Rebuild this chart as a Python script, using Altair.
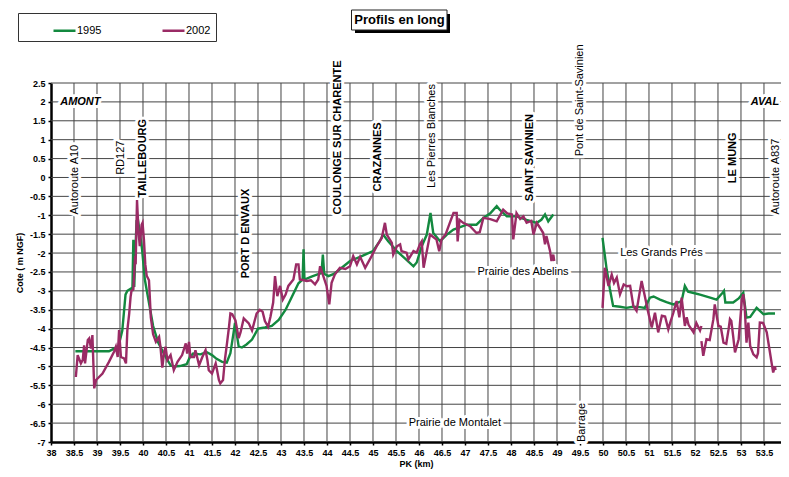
import altair as alt
import pandas as pd

# ---------------- data (PK km, cote m NGF) ----------------
g95_a_km = [38.53, 38.9, 39.26, 39.37, 39.47, 39.55, 39.62, 39.66, 39.75, 39.77, 39.79, 39.81, 39.83, 39.86,
            39.89, 39.93, 39.98, 40.04, 40.12, 40.22, 40.33, 40.45, 40.52, 40.6, 40.66, 40.8, 40.95, 41.02,
            41.09, 41.25, 41.38, 41.5, 41.6, 41.72, 41.82, 41.9, 41.97, 42.0, 42.08, 42.15, 42.25, 42.37,
            42.5, 42.65, 42.8, 42.95, 43.1, 43.24, 43.38, 43.47, 43.49, 43.51, 43.65, 43.78, 43.88, 43.91,
            43.94, 44.03, 44.15, 44.28, 44.5, 44.72, 45.0, 45.15, 45.22, 45.33, 45.52, 45.7, 45.88, 45.95,
            46.06, 46.17, 46.25, 46.31, 46.46, 46.6, 46.75, 47.04, 47.25, 47.4, 47.55, 47.69, 47.76, 47.91,
            48.12, 48.34, 48.56, 48.66, 48.74, 48.81, 48.92]
g95_a_z = [-4.6, -4.6, -4.6, -4.53, -4.45, -4.05, -3.1, -3.0, -2.93, -2.95, -1.65, -2.9, -2.1, -1.15,
           -1.12, -1.45, -1.9, -2.7, -3.25, -3.93, -4.37, -4.65, -4.81, -4.97, -5.0, -4.99, -4.94, -4.75,
           -4.66, -4.68, -4.62, -4.7, -4.8, -4.88, -4.9, -4.65, -4.1, -3.85, -4.47, -4.5, -4.42, -4.29,
           -4.0, -3.97, -3.93, -3.77, -3.5, -3.15, -2.8, -2.7, -1.9, -2.7, -2.63, -2.57, -2.53, -2.04,
           -2.55, -2.61, -2.55, -2.43, -2.21, -2.1, -1.95, -1.68, -1.51, -1.69, -1.95, -2.15, -2.35, -2.25,
           -1.82, -1.51, -0.94, -1.47, -1.69, -1.52, -1.38, -1.25, -1.25, -1.07, -0.95, -0.76, -0.86, -1.03,
           -1.03, -1.12, -1.2, -1.12, -0.98, -1.16, -0.98]

g95_b_km = [49.99, 50.08, 50.15, 50.22, 50.37, 50.51, 50.65, 50.8, 50.91, 51.02, 51.1, 51.24, 51.38, 51.53,
            51.71, 51.78, 51.85, 51.95, 52.11, 52.33, 52.47, 52.6, 52.63, 52.66, 52.83, 52.95, 53.05, 53.12,
            53.2, 53.34, 53.49, 53.6, 53.74]
g95_b_z = [-1.6, -2.43, -2.95, -3.4, -3.42, -3.45, -3.42, -3.43, -3.45, -3.18, -3.15, -3.23, -3.3, -3.36,
           -3.27, -2.87, -3.02, -3.05, -3.1, -3.18, -3.23, -3.05, -3.0, -3.31, -3.31, -3.2, -3.05, -3.71,
           -3.69, -3.45, -3.62, -3.6, -3.6]

p02_a_km = [38.54, 38.58, 38.65, 38.69, 38.72, 38.74, 38.8, 38.83, 38.87, 38.9, 38.94, 38.98, 39.12, 39.26,
            39.37, 39.41, 39.45, 39.48, 39.52, 39.59, 39.63, 39.66, 39.7, 39.73, 39.75, 39.79, 39.83, 39.84,
            39.87, 39.9, 39.93, 39.97, 39.99, 40.02, 40.05, 40.08, 40.13, 40.17, 40.22, 40.28, 40.35, 40.38,
            40.42, 40.46, 40.49, 40.53, 40.6, 40.67, 40.75, 40.85, 40.93, 40.96, 41.0, 41.03, 41.11, 41.14,
            41.22, 41.29, 41.36, 41.4, 41.43, 41.5, 41.58, 41.61, 41.65, 41.68, 41.74, 41.78, 41.83, 41.87,
            41.9, 41.94, 42.01, 42.08, 42.12, 42.19, 42.3, 42.37, 42.47, 42.54, 42.6, 42.65, 42.72, 42.77,
            42.83, 42.87, 42.92, 42.98, 43.04, 43.1, 43.16, 43.27, 43.33, 43.38, 43.41, 43.5, 43.56, 43.65,
            43.74, 43.81, 43.85, 43.92, 43.99, 44.05, 44.1, 44.17, 44.28, 44.4, 44.5, 44.57, 44.65, 44.72,
            44.83, 44.97, 45.08, 45.19, 45.26, 45.3, 45.41, 45.44, 45.52, 45.59, 45.62, 45.73, 45.77, 45.88,
            45.95, 46.02, 46.06, 46.1, 46.17, 46.24, 46.38, 46.44, 46.49, 46.58, 46.67, 46.75, 46.82, 46.84,
            46.88, 46.96, 47.11, 47.25, 47.32, 47.4, 47.55, 47.69, 47.83, 47.92, 48.02, 48.05, 48.12, 48.2,
            48.27, 48.34, 48.44, 48.49, 48.56, 48.63, 48.7, 48.74, 48.77, 48.85, 48.88, 48.92, 48.94]
p02_a_z = [-5.28, -4.7, -4.92, -4.83, -4.44, -4.92, -4.3, -4.26, -4.53, -4.17, -5.58, -5.36, -5.19, -4.88,
           -4.61, -4.48, -4.75, -4.04, -4.75, -4.79, -4.92, -4.04, -3.6, -3.16, -3.0, -2.96, -2.08, -2.3,
           -0.6, -1.38, -1.82, -1.25, -1.2, -1.64, -2.3, -2.6, -2.72, -3.7, -4.15, -4.35, -4.22, -4.48,
           -5.03, -4.61, -4.48, -4.83, -4.7, -5.1, -4.88, -4.7, -4.39, -4.66, -4.35, -4.75, -4.75, -4.57,
           -4.97, -4.75, -4.57, -4.83, -5.1, -5.19, -4.92, -5.1, -5.36, -5.45, -5.36, -4.83, -4.35, -3.95,
           -3.6, -3.62, -3.78, -4.25, -4.1, -3.73, -3.86, -4.05, -3.6, -3.5, -3.55, -3.8, -3.95, -3.69,
           -3.31, -2.61, -3.14, -2.87, -3.23, -3.1, -2.87, -2.7, -2.3, -2.3, -2.7, -2.72, -2.74, -2.72,
           -2.83, -2.7, -2.35, -2.61, -2.87, -3.36, -2.79, -2.57, -2.39, -2.42, -2.35, -2.08, -2.3, -2.1,
           -2.39, -2.08, -1.82, -1.6, -1.2, -1.51, -1.73, -2.04, -1.82, -1.77, -1.95, -1.99, -2.17, -1.95,
           -1.99, -1.77, -1.69, -2.39, -1.95, -1.51, -1.64, -1.95, -1.64, -1.5, -1.2, -0.94, -0.94, -1.69,
           -1.12, -1.2, -1.29, -1.47, -1.45, -1.07, -1.1, -1.16, -0.85, -0.95, -0.98, -1.64, -0.94, -1.1,
           -1.03, -1.2, -1.15, -1.51, -1.2, -1.33, -1.47, -1.77, -1.55, -1.95, -2.21, -2.04, -2.21]

p02_b_km = [49.99, 50.04, 50.12, 50.19, 50.24, 50.3, 50.37, 50.45, 50.52, 50.59, 50.66, 50.73, 50.84, 50.91,
            50.98, 51.06, 51.13, 51.2, 51.28, 51.35, 51.42, 51.46, 51.53, 51.6, 51.66, 51.71, 51.78, 51.82,
            51.86, 51.97, 52.03, 52.11, 52.14]
p02_b_z = [-3.45, -2.39, -2.87, -2.57, -2.79, -2.65, -3.09, -2.83, -2.88, -2.87, -3.4, -3.53, -2.74, -3.14,
           -3.55, -3.97, -3.58, -4.1, -3.66, -3.68, -4.02, -3.85, -3.58, -3.27, -3.7, -3.18, -3.93, -3.7,
           -3.9, -4.1, -3.85, -4.05, -3.93]

p02_c_km = [52.14, 52.18, 52.25, 52.32, 52.4, 52.43, 52.51, 52.56, 52.62, 52.68, 52.73, 52.76, 52.79, 52.83,
            52.87, 52.95, 53.02, 53.05, 53.08, 53.12, 53.16, 53.2, 53.27, 53.34, 53.37, 53.41, 53.48, 53.56,
            53.63, 53.67, 53.7, 53.74, 53.75]
p02_c_z = [-4.33, -4.72, -4.28, -4.3, -3.75, -3.36, -3.93, -3.95, -4.37, -4.4, -4.02, -3.75, -3.8, -4.2,
           -4.63, -4.28, -3.23, -3.09, -3.4, -4.37, -3.84, -4.46, -4.68, -4.76, -4.65, -3.84, -3.85, -4.1,
           -4.63, -4.94, -5.16, -5.0, -5.1]

years = ["1995", "2002"]
colors = ["#13893f", "#9a2b65"]

# annotation labels
vert_norm_t = ["Autoroute A10", "RD127", "Les Pierres Blanches", "Pont de Saint-Savinien", "Autoroute A837", "Barrage"]
vert_norm_km = [38.52, 39.52, 46.28, 49.51, 53.76, 49.55]
vert_norm_z = [-0.98, 0.07, -0.28, 0.56, -0.98, -7.0]

vert_bold_t = ["TAILLEBOURG", "PORT D ENVAUX", "COULONGE SUR CHARENTE", "CRAZANNES", "SAINT SAVINIEN", "LE MUNG"]
vert_bold_km = [39.99, 42.24, 44.25, 45.11, 48.41, 52.83]
vert_bold_z = [-0.53, -2.67, -0.98, -0.37, -0.63, -0.15]

hor_t = ["Prairie des Abelins", "Les Grands Prés", "Prairie de Montalet"]
hor_km = [48.26, 51.27, 46.78]
hor_z = [-2.5, -2.0, -6.5]

side_t = ["AMONT", "AVAL"]
side_km = [38.2, 53.83]
side_z = [2.0, 2.0]

title_text = "Profils en long"

x_ticks = [38 + 0.5 * i for i in range(32)]      # 38 .. 53.5 (54 falls at the page edge)
y_ticks = [2.5 - 0.5 * i for i in range(20)]     # 2.5 .. -7

# ---------------- build tables ----------------
rows = []
for km, z, yr, sg in [(g95_a_km, g95_a_z, "1995", "g1"), (g95_b_km, g95_b_z, "1995", "g2"),
                      (p02_a_km, p02_a_z, "2002", "p1"), (p02_b_km, p02_b_z, "2002", "p2"),
                      (p02_c_km, p02_c_z, "2002", "p3")]:
    for a, b in zip(km, z):
        rows.append({"km": a, "z": b, "year": yr, "seg": sg})
lines_df = pd.DataFrame(rows)

FONT = "Liberation Sans"
xs = alt.Scale(domain=[38, 53.87], nice=False, zero=False)
ys = alt.Scale(domain=[-7, 2.5], nice=False, zero=False)

axis_common = dict(
    grid=False,
    domainColor="black", domainWidth=2.5, tickColor="black", tickSize=3, tickWidth=1.5,
    labelFont=FONT, labelFontSize=9, labelFontWeight="bold", labelColor="black",
    labelExpr="'' + datum.value", titleFont=FONT, titleFontSize=9, titleFontWeight="bold",
    titleColor="black",
)
xaxis = alt.Axis(values=x_ticks, title="PK (km)", labelPadding=3, labelFlush=False,
                 labelOverlap=False, titleY=17, titleBaseline="top", **axis_common)
yaxis = alt.Axis(values=y_ticks, title="Cote ( m NGF)", labelPadding=3, labelOverlap=False,
                 titleAngle=270, titleX=-27, titleY=179.5, titleBaseline="bottom",
                 titleAlign="center", **axis_common)

X = alt.X("km:Q", scale=xs, axis=xaxis)
Y = alt.Y("z:Q", scale=ys, axis=yaxis)

# grid lines every 0.5 km and every 0.5 m
vgrid = alt.Chart(pd.DataFrame({"km": x_ticks[1:]})).mark_rule(
    color="#444444", strokeWidth=1).encode(x=X)
hgrid = alt.Chart(pd.DataFrame({"z": y_ticks[:-1]})).mark_rule(
    color="#444444", strokeWidth=1).encode(y=Y)


def labels(df, angle, align, weight, style="normal"):
    base = alt.Chart(df).encode(x=X, y=Y, text="t:N")
    halo = base.mark_text(angle=angle, align=align, baseline="middle", font=FONT, fontSize=11,
                          fontWeight=weight, fontStyle=style, fill="white", stroke="white",
                          strokeWidth=6, strokeJoin="round")
    txt = base.mark_text(angle=angle, align=align, baseline="middle", font=FONT, fontSize=11,
                         fontWeight=weight, fontStyle=style, color="black")
    return [halo, txt]


vn = pd.DataFrame({"t": vert_norm_t, "km": vert_norm_km, "z": vert_norm_z})
vb = pd.DataFrame({"t": vert_bold_t, "km": vert_bold_km, "z": vert_bold_z})
hz = pd.DataFrame({"t": hor_t, "km": hor_km, "z": hor_z})
sd_l = pd.DataFrame({"t": side_t[:1], "km": side_km[:1], "z": side_z[:1]})
sd_r = pd.DataFrame({"t": side_t[1:], "km": side_km[1:], "z": side_z[1:]})

layers = [vgrid, hgrid]
layers += labels(vn, 270, "left", "normal")
layers += labels(vb, 270, "left", "bold")
layers += labels(hz, 0, "center", "normal")
layers += labels(sd_l, 0, "left", "bold", "italic")
layers += labels(sd_r, 0, "right", "bold", "italic")

legend = alt.Legend(orient="none", legendX=-33, legendY=-70, direction="horizontal", title=None,
                    symbolType="stroke", symbolSize=484, symbolStrokeWidth=2.5, symbolOffset=29,
                    labelFont=FONT, labelFontSize=11, labelColor="black", labelOffset=0,
                    columnPadding=30, padding=5, strokeColor="#333333", fillColor="white")

lines = alt.Chart(lines_df).mark_line(strokeWidth=2.4).encode(
    x=X, y=Y,
    color=alt.Color("year:N", scale=alt.Scale(domain=years, range=colors), legend=legend),
    detail="seg:N",
)
layers.append(lines)

# title frame (decorative box with drop shadow) and title text
one = pd.DataFrame({"t": [title_text]})
shadow = alt.Chart(one).mark_rect(color="black").encode(
    x=alt.value(304), x2=alt.value(399), y=alt.value(-69), y2=alt.value(-50))
frame = alt.Chart(one).mark_rect(fill="white", stroke="#222222", strokeWidth=1).encode(
    x=alt.value(300.5), x2=alt.value(396), y=alt.value(-73), y2=alt.value(-53))
ttext = alt.Chart(one).mark_text(font=FONT, fontSize=13, fontWeight="bold", color="black",
                                 align="center", baseline="middle").encode(
    x=alt.value(348.5), y=alt.value(-63), text="t:N")
layers += [shadow, frame, ttext]

chart = alt.layer(*layers).properties(
    width=730, height=359,
    autosize=alt.AutoSizeParams(type="none"),
    padding={"left": 43, "top": 75, "right": 0, "bottom": 27},
).configure_view(strokeWidth=0)

chart.save("out.html", embed_options={"renderer": "svg", "actions": False})
